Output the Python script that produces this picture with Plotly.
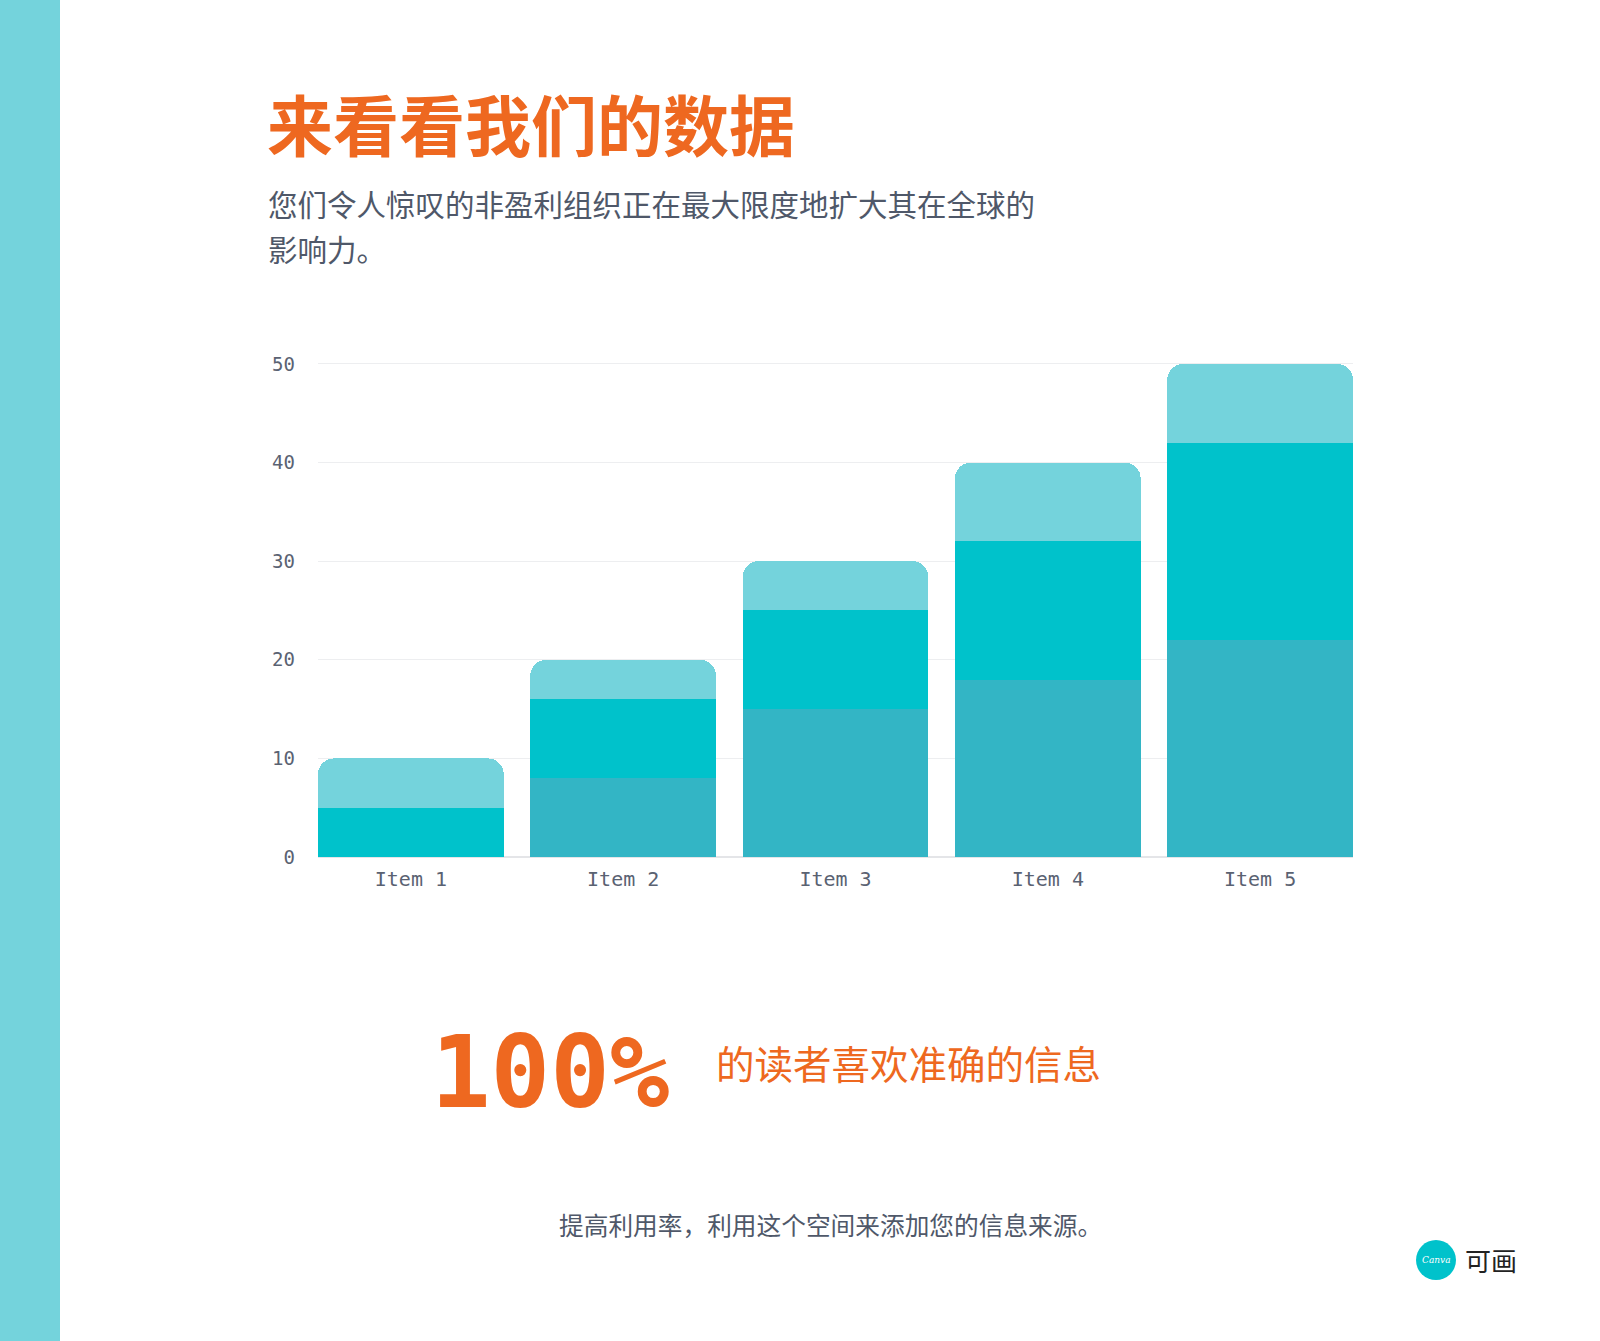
import plotly.graph_objects as go

# data
items = ["Item 1", "Item 2", "Item 3", "Item 4", "Item 5"]
base_layer = [0, 8, 15, 18, 22]
mid_layer = [5, 8, 10, 14, 20]
top_layer = [5, 4, 5, 8, 8]
y_ticks = [0, 10, 20, 30, 40, 50]

title_text = "来看看我们的数据"
subtitle_lines = ["您们令人惊叹的非盈利组织正在最大限度地扩大其在全球的", "影响力。"]
stat_value = "100%"
stat_text = "的读者喜欢准确的信息"
source_text = "提高利用率，利用这个空间来添加您的信息来源。"

W, H = 1600, 1341
Y_MAX = 50.3
PLOT_L, PLOT_R, PLOT_B = 318, 1353, 857
PLOT_T = PLOT_B - (PLOT_B - 364) * Y_MAX / 50

ORANGE = "#EE6820"
GREY = "#4F5869"
TICK_GREY = "#5A6272"
COLORS = {"base": "#33B5C5", "mid": "#00C2CB", "top": "#74D3DC"}
CJK = "Noto Sans CJK SC"
MONO = "DejaVu Sans Mono"


def px(x):
    return (x - PLOT_L) / (PLOT_R - PLOT_L)


def py(y):
    return (PLOT_B - y) / (PLOT_B - PLOT_T)


fig = go.Figure()
for name, vals in [("base", base_layer), ("mid", mid_layer), ("top", top_layer)]:
    fig.add_trace(go.Bar(x=items, y=vals, name=name, marker_color=COLORS[name],
                         marker_line_width=0, hoverinfo="x+y"))

gap = 0.125
fig.update_layout(
    barmode="stack", bargap=gap, barcornerradius=16,
    width=W, height=H, showlegend=False,
    paper_bgcolor="white", plot_bgcolor="white",
    margin=dict(l=PLOT_L, r=W - PLOT_R, t=PLOT_T, b=H - PLOT_B, pad=0),
    xaxis=dict(range=[-0.5 + gap / 2, 4.5 - gap / 2], showgrid=False, zeroline=False,
               showline=False, ticks="", ticklabelstandoff=8,
               tickfont=dict(family=MONO, size=20, color=TICK_GREY)),
    yaxis=dict(range=[0, Y_MAX], tickvals=y_ticks, showgrid=True, gridcolor="#EDEEF0",
               gridwidth=1, zeroline=True, zerolinecolor="#E4E5E8", showline=False,
               ticks="", ticklabelstandoff=22,
               tickfont=dict(family=MONO, size=19, color=TICK_GREY)),
)

# left accent strip and logo badge
fig.add_shape(type="rect", xref="paper", yref="paper", x0=px(0), x1=px(60), y0=py(0), y1=py(H),
              fillcolor="#74D3DC", line_width=0, layer="below")
fig.add_shape(type="circle", xref="paper", yref="paper", x0=px(1416), x1=px(1456), y0=py(1240), y1=py(1280),
              fillcolor="#00C2CB", line_width=0)

ann = [
    dict(text=f"<b>{title_text}</b>", x=px(265), y=py(122), font=dict(family=CJK, size=66, color=ORANGE)),
    dict(text=subtitle_lines[0], x=px(266), y=py(203), font=dict(family=CJK, size=29.5, color=GREY)),
    dict(text=subtitle_lines[1], x=px(266), y=py(248), font=dict(family=CJK, size=29.5, color=GREY)),
    dict(text=f"<b>{stat_value}</b>", x=px(429), y=py(1072), font=dict(family=MONO, size=99, color=ORANGE)),
    dict(text=stat_text, x=px(714), y=py(1062), font=dict(family=CJK, size=38.5, color=ORANGE)),
    dict(text=source_text, x=px(557), y=py(1224), font=dict(family=CJK, size=24.7, color=GREY)),
    dict(text="<i>Canva</i>", x=px(1436), y=py(1260), xanchor="center",
         font=dict(family="DejaVu Serif", size=9, color="white")),
    dict(text="可画", x=px(1463), y=py(1259), font=dict(family=CJK, size=26, color="#222222")),
]
for a in ann:
    a.setdefault("xanchor", "left")
    fig.add_annotation(xref="paper", yref="paper", yanchor="middle", showarrow=False, **a)

# drop the browser's default body margin so the page lines up with the window
fig.write_html("out.html", config={"displayModeBar": False},
               post_script="document.body.style.margin = '0';")
